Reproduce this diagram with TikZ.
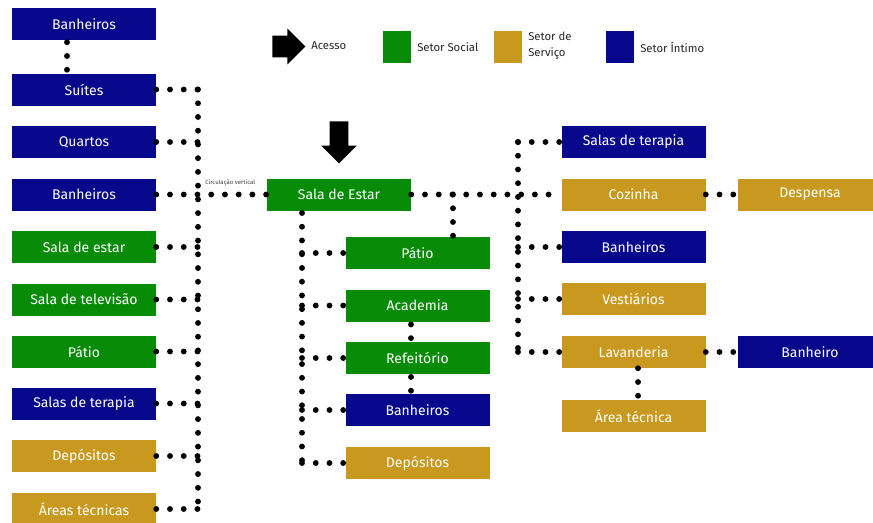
\documentclass[tikz,border=0pt]{standalone}
\usepackage{fontspec}
\setmainfont{Fira Sans}
\usetikzlibrary{positioning,shapes.arrows}

\definecolor{verdeSocial}{RGB}{8,140,8}
\definecolor{ouroServico}{RGB}{201,153,31}
\definecolor{azulIntimo}{RGB}{8,8,140}

\tikzset{
  ambiente/.style={minimum width=108pt, minimum height=24pt, inner sep=0pt, text=white, font=\fontsize{10.5}{12}\selectfont},
  social/.style={ambiente, fill=verdeSocial},
  servico/.style={ambiente, fill=ouroServico},
  intimo/.style={ambiente, fill=azulIntimo},
  amostra/.style={minimum width=21pt, minimum height=24pt, inner sep=0pt},
  legenda/.style={anchor=west, inner sep=0pt, align=left, text=black!85, font=\fontsize{8.5}{12}\selectfont},
  acesso/.style={single arrow, fill=black, inner xsep=0pt, anchor=tail},
  pontos/.style={line width=4.4pt, line cap=round, dash pattern=on 0pt off 10.3pt},
}

\begin{document}
\begin{tikzpicture}[x=0.75pt, y=-0.75pt]
    \useasboundingbox (0,0) rectangle (873,522);

    % Legend
    \node[acesso, minimum height=24.75pt, inner ysep=8pt, single arrow head extend=5.2pt] (legAcesso) at (272,46.5) {};
    \node[legenda] (txtAcesso) at (311,46) {Acesso};
    \node[amostra, fill=verdeSocial] (legSocial) at (397,47) {};
    \node[legenda] (txtSocial) at (417,47) {Setor Social};
    \node[amostra, fill=ouroServico] (legServico) at (508,47) {};
    \node[legenda] (txtServico) at (528,46) {Setor de\\Serviço};
    \node[amostra, fill=azulIntimo] (legIntimo) at (620,47) {};
    \node[legenda] (txtIntimo) at (640,47) {Setor Íntimo};

    % Left column
    \node[intimo] (banL0) at (84,24) {Banheiros};
    \node[intimo] (suites) at (84,89.5) {Suítes};
    \node[intimo] (quartos) at (84,142) {Quartos};
    \node[intimo] (banL1) at (84,194.5) {Banheiros};
    \node[social] (estarL) at (84,247) {Sala de estar};
    \node[social] (tv) at (84,299.5) {Sala de televisão};
    \node[social] (patioL) at (84,351.5) {Pátio};
    \node[intimo] (terapiaL) at (84,403.5) {Salas de terapia};
    \node[servico] (depositosL) at (84,456) {Depósitos};
    \node[servico] (tecnicasL) at (84,509) {Áreas técnicas};

    % Entrance: Sala de Estar
    \node[social] (estar) at (339,194.5) {Sala de Estar};
    \node[acesso, rotate=-90, minimum height=31.5pt, inner ysep=6.8pt, single arrow head extend=6.3pt] (entrada) at (339,121) {};

    % Centre column
    \node[social] (patioC) at (417.5,253) {Pátio};
    \node[social] (academia) at (417.5,305.5) {Academia};
    \node[social] (refeitorio) at (417.5,358) {Refeitório};
    \node[intimo] (banC) at (417.5,410) {Banheiros};
    \node[servico] (depositosC) at (417.5,463) {Depósitos};

    % Right column
    \node[intimo] (terapiaR) at (633.5,142) {Salas de terapia};
    \node[servico] (cozinha) at (633.5,194.5) {Cozinha};
    \node[intimo] (banR) at (633.5,247) {Banheiros};
    \node[servico] (vestiarios) at (633.5,299) {Vestiários};
    \node[servico] (lavanderia) at (633.5,352) {Lavanderia};
    \node[servico] (tecnicaR) at (633.5,416) {Área técnica};
    \node[servico] (despensa) at (810,194.5) {Despensa};
    \node[intimo] (banheiro) at (810,352) {Banheiro};

    % Vertical circulation (left)
    \coordinate (circE) at (198,89.5);
    \draw[pontos] ([xshift=-12.75pt,yshift=-1.5pt]banL0.south) -- ([xshift=-12.75pt]suites.north);
    \draw[pontos] (circE) -- (circE |- tecnicasL.east);
    \draw[pontos] (suites.east) -- (circE);
    \draw[pontos] (quartos.east) -- (quartos.east -| circE);
    \draw[pontos] (banL1.east) -- (estar.west);
    \draw[pontos] (estarL.east) -- (estarL.east -| circE);
    \draw[pontos] (tv.east) -- (tv.east -| circE);
    \draw[pontos] (patioL.east) -- (patioL.east -| circE);
    \draw[pontos] (terapiaL.east) -- (terapiaL.east -| circE);
    \draw[pontos] (depositosL.east) -- (depositosL.east -| circE);
    \draw[pontos] (tecnicasL.east) -- (tecnicasL.east -| circE);
    \node[anchor=west, inner sep=0pt, text=black!75, font=\fontsize{4.5}{5}\selectfont] (circLabel) at (205,183) {Circulação vertical};

    % Centre connections
    \coordinate (circC) at (302,213);
    \draw[pontos] (circC) -- (circC |- depositosC.west);
    \draw[pontos] (patioC.west -| circC) -- (patioC.west);
    \draw[pontos] (academia.west -| circC) -- (academia.west);
    \draw[pontos] (refeitorio.west -| circC) -- (refeitorio.west);
    \draw[pontos] (banC.west -| circC) -- (banC.west);
    \draw[pontos] (depositosC.west -| circC) -- (depositosC.west);
    \draw[pontos] ([xshift=-4.9pt,yshift=-2pt]academia.south) -- ([xshift=-4.9pt]refeitorio.north);
    \draw[pontos] ([xshift=-4.9pt,yshift=-2pt]refeitorio.south) -- ([xshift=-4.9pt]banC.north);

    % Right connections
    \draw[pontos] (estar.east) -- (cozinha.west);
    \coordinate (jPatio) at (453,194.5);
    \draw[pontos] (jPatio) -- (jPatio |- patioC.north);
    \coordinate (circD) at (518,142);
    \draw[pontos] (circD) -- (circD |- lavanderia.west);
    \draw[pontos] (circD) -- (terapiaR.west);
    \draw[pontos] (banR.west -| circD) -- (banR.west);
    \draw[pontos] (vestiarios.west -| circD) -- (vestiarios.west);
    \draw[pontos] (lavanderia.west -| circD) -- (lavanderia.west);
    \draw[pontos] (cozinha.east) -- (despensa.west);
    \draw[pontos] (lavanderia.east) -- (banheiro.west);
    \draw[pontos] ([xshift=3.4pt]lavanderia.south) -- ([xshift=3.4pt]tecnicaR.north);

\end{tikzpicture}
\end{document}
